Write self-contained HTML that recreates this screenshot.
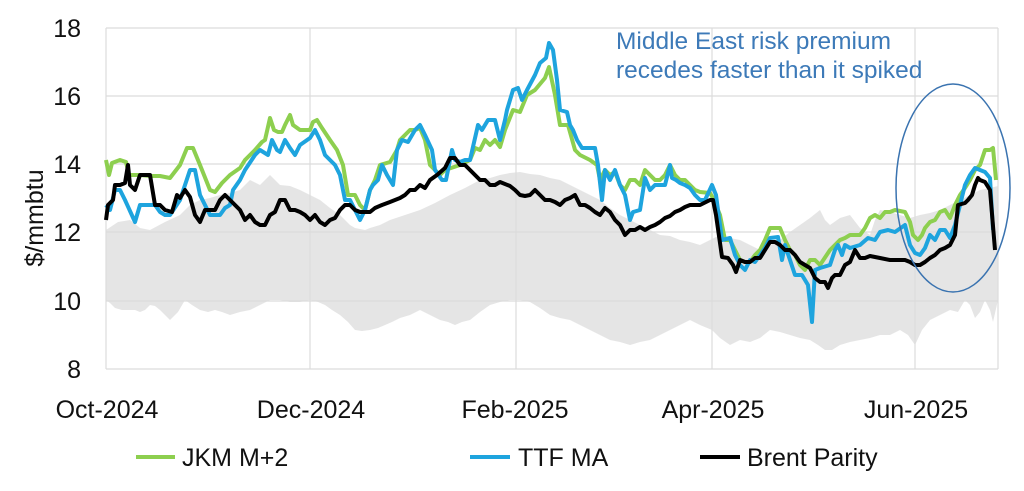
<!DOCTYPE html>
<html><head><style>body{margin:0;background:#fff}svg{display:block;font-family:"Liberation Sans",sans-serif}</style></head><body>
<svg width="1024" height="491" viewBox="0 0 1024 491">
<polygon fill="#e5e5e5" points="106,230 118,222 130,220 140,228 150,230 165,222 180,215 190,205 200,200 210,198 220,195 230,193 240,190 250,180 260,185 270,175 280,185 290,186 300,190 310,195 320,200 330,208 340,215 350,225 355,228 365,230 370,228 380,225 390,220 405,215 420,210 435,203 450,195 465,188 480,180 490,178 500,175 510,173 520,172 530,174 540,175 550,178 560,180 570,185 580,190 590,195 600,200 610,208 620,215 630,220 640,225 650,230 660,235 670,236 680,240 690,242 700,245 710,240 720,235 730,238 740,240 750,245 760,250 770,245 780,240 790,232 800,225 810,218 820,210 825,220 830,225 840,218 850,215 860,228 870,235 875,220 880,210 890,212 900,215 910,218 920,215 930,213 940,210 950,205 960,200 970,195 980,190 990,188 998,186 998,300 993,322 990,310 985,300 980,312 975,318 970,305 965,300 958,312 950,310 940,315 930,320 922,330 915,345 908,335 900,330 890,335 880,335 870,338 860,340 850,342 840,345 832,350 825,350 818,345 810,340 800,338 790,335 780,332 770,330 760,338 750,342 740,340 730,345 720,338 712,330 700,325 690,320 680,325 670,330 660,335 650,340 640,342 630,345 620,342 610,340 600,335 590,330 580,325 570,320 560,318 550,315 540,308 530,302 520,300 510,300 500,302 490,305 480,312 470,320 462,322 455,325 448,322 440,320 430,315 420,310 410,315 400,318 392,322 385,325 378,328 370,330 362,331 355,330 348,322 340,315 332,310 325,305 318,302 310,300 300,302 290,302 280,300 270,300 260,305 250,310 240,312 230,315 222,312 215,310 208,312 200,310 192,305 185,300 178,312 170,320 165,315 160,310 155,306 150,305 145,310 140,312 135,310 130,310 122,310 115,308 110,303 106,300"/>
<g stroke="#dcdcdc" stroke-width="1.2" fill="none">
<line x1="106" y1="28" x2="998" y2="28"/><line x1="106" y1="96" x2="998" y2="96"/><line x1="106" y1="164" x2="998" y2="164"/><line x1="106" y1="232" x2="998" y2="232"/><line x1="106" y1="301" x2="998" y2="301"/><line x1="106" y1="369" x2="998" y2="369"/>
<line x1="106" y1="28" x2="106" y2="369"/><line x1="310" y1="28" x2="310" y2="369"/><line x1="516" y1="28" x2="516" y2="369"/><line x1="712" y1="28" x2="712" y2="369"/><line x1="915" y1="28" x2="915" y2="369"/><line x1="998" y1="28" x2="998" y2="369"/>
</g>
<g fill="none" stroke-width="4" stroke-linejoin="round">
<polyline stroke="#8dcf4f" points="106,160 109,175 112,163 120,160 126,162 129,175 140,175 150,176 160,176 170,178 180,165 187,148 193,148 200,165 210,190 215,192 222,183 230,175 240,168 245,160 255,150 262,142 265,140 270,118 274,130 278,132 282,132 285,125 290,115 293,125 300,130 310,130 313,122 317,120 322,128 330,140 337,150 343,165 348,195 355,195 360,205 365,210 370,190 375,180 380,165 390,162 397,150 400,140 405,135 410,130 415,130 420,128 425,140 430,165 440,175 445,170 460,165 470,160 475,148 480,150 485,140 490,145 495,140 500,147 505,130 513,110 520,112 527,95 535,90 545,78 549,67 555,95 560,125 568,125 575,150 580,155 590,160 597,165 600,180 605,170 610,175 615,172 620,185 625,190 630,180 635,180 640,185 645,170 650,175 655,180 660,180 665,175 670,165 675,175 680,180 685,180 690,185 695,190 700,192 710,193 713,198 720,215 725,240 730,240 735,250 740,260 745,262 750,262 755,255 760,250 765,240 770,228 780,228 785,240 790,250 795,255 800,265 805,270 810,260 815,260 820,265 830,250 835,245 840,240 845,238 850,235 860,235 865,228 870,218 875,215 880,218 885,212 890,212 895,210 905,212 910,222 913,235 918,240 922,235 925,228 930,222 935,220 940,212 945,210 950,218 955,205 960,195 965,188 970,180 975,170 980,165 985,150 990,150 993,148 996,180"/>
<polyline stroke="#1ea4de" points="106,205 110,210 115,190 120,190 125,200 135,222 140,205 145,205 155,205 160,212 165,215 170,215 180,200 190,170 195,170 200,195 210,215 220,215 225,208 230,205 233,190 240,180 245,170 255,155 260,150 268,155 272,140 277,150 280,152 285,140 290,148 295,155 300,145 310,138 315,130 320,140 325,155 330,160 335,165 340,175 345,200 350,200 355,210 360,220 365,210 370,190 373,185 378,180 382,165 387,175 393,185 397,150 402,140 408,142 415,130 420,125 425,135 432,150 435,170 442,180 446,180 452,150 455,160 460,162 465,160 470,160 478,125 482,130 488,120 495,120 500,140 505,120 507,110 513,90 518,88 522,100 527,90 535,75 540,63 546,58 549,43 553,50 557,80 560,110 567,112 570,125 573,130 577,140 582,148 595,148 598,165 602,200 605,170 610,180 615,170 620,185 625,195 630,220 633,212 640,210 645,178 650,190 655,185 660,185 665,185 670,165 672,178 676,180 680,183 685,185 690,188 695,195 700,200 705,200 712,185 716,195 722,240 730,238 735,255 740,265 745,270 750,260 755,262 760,255 765,248 770,238 778,237 782,260 785,245 790,260 795,275 802,275 808,285 812,322 815,270 820,268 830,265 835,250 838,245 842,255 845,245 850,248 860,245 868,238 875,240 880,232 888,230 895,232 905,225 910,245 915,253 920,255 925,248 930,235 935,240 940,230 945,230 950,238 955,225 960,205 965,185 970,175 975,168 980,170 985,172 990,178 993,230"/>
<polyline stroke="#000" points="106,220 108,205 113,200 115,185 120,185 125,183 128,165 130,185 135,190 140,175 150,175 155,205 160,205 165,210 172,212 177,195 180,198 185,190 190,197 195,215 200,222 205,210 215,210 220,200 225,195 230,200 235,205 240,210 245,220 250,215 255,222 260,225 265,225 270,215 275,212 280,200 285,200 290,210 295,210 300,212 305,215 310,220 315,215 320,222 325,225 330,220 335,218 340,210 345,205 350,205 355,210 360,212 370,212 375,208 382,205 390,202 400,198 405,195 410,190 415,190 420,185 425,188 430,180 437,175 445,168 450,158 455,158 460,165 465,165 470,170 475,175 480,180 485,180 490,185 495,185 500,182 510,186 515,190 520,195 525,196 530,195 535,190 540,195 545,200 550,200 555,202 560,205 565,200 570,198 575,195 580,205 585,205 590,208 595,212 600,215 605,208 610,212 615,220 620,225 625,235 630,230 635,230 640,227 645,230 650,227 655,225 660,222 665,218 670,216 675,212 680,210 685,207 690,205 700,205 710,200 713,200 716,215 722,257 728,258 733,265 736,272 740,260 745,262 750,262 755,258 760,258 765,250 770,242 775,242 780,245 785,250 790,250 795,255 800,262 805,265 810,268 815,278 820,282 825,282 828,288 832,278 835,275 840,275 845,265 850,262 855,250 860,258 865,258 870,256 880,258 890,260 900,260 905,260 910,262 915,265 920,265 925,262 930,258 935,255 940,250 945,248 950,245 955,235 958,205 965,203 968,200 972,195 975,185 978,178 980,180 985,182 990,190 995,250"/>
</g>
<ellipse cx="953" cy="188" rx="57" ry="104" fill="none" stroke="#3a73b0" stroke-width="1.5"/>
<g fill="#3d7ab8" font-size="24.5"><text x="616" y="49">Middle East risk premium</text><text x="616" y="78">recedes faster than it spiked</text></g>
<g font-size="25" fill="#111" text-anchor="end"><text x="81" y="37">18</text><text x="81" y="105">16</text><text x="81" y="173">14</text><text x="81" y="241">12</text><text x="81" y="310">10</text><text x="81" y="378">8</text></g>
<text transform="translate(43,218) rotate(-90)" font-size="25" fill="#111" text-anchor="middle">$/mmbtu</text>
<g font-size="25" fill="#111" text-anchor="middle"><text x="107" y="418">Oct-2024</text><text x="311" y="418">Dec-2024</text><text x="515" y="418">Feb-2025</text><text x="713" y="418">Apr-2025</text><text x="916" y="418">Jun-2025</text></g>
<g stroke-width="4"><line x1="136" y1="457" x2="175" y2="457" stroke="#8dcf4f"/><line x1="470" y1="457" x2="510" y2="457" stroke="#1ea4de"/><line x1="700" y1="457" x2="740" y2="457" stroke="#000"/></g>
<g font-size="25" fill="#111"><text x="182" y="466">JKM M+2</text><text x="518" y="466">TTF MA</text><text x="747" y="466">Brent Parity</text></g>
</svg></body></html>
